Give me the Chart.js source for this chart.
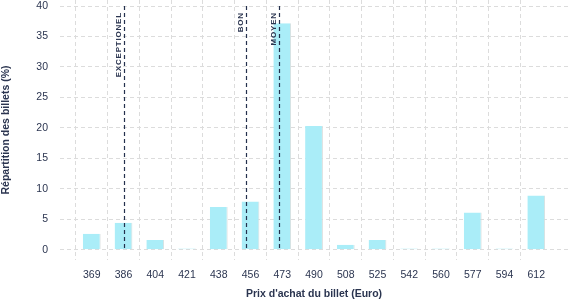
<!DOCTYPE html>
<html>
<head>
<meta charset="utf-8">
<script src="https://cdn.jsdelivr.net/npm/chart.js@4/dist/chart.umd.min.js"></script>
<style>
  html, body { margin: 0; padding: 0; background: #fff; }
  #wrap { width: 577px; height: 300px; }
</style>
</head>
<body>
<div id="wrap"><canvas id="chart" width="577" height="300"></canvas></div>
<script>
// Prix (Euro) des classes de billets
const prix = ['369', '386', '404', '421', '438', '456', '473', '490', '508', '525', '542', '560', '577', '594', '612'];
// Répartition des billets (%)
const repartition = [2.6, 4.4, 1.6, 0.2, 7.0, 7.9, 37.2, 20.3, 0.8, 1.6, 0.2, 0.2, 6.1, 0.2, 8.9];
// Seuils (position exprimée en rang de classe)
const seuilNoms = ['EXCEPTIONEL', 'BON', 'MOYEN'];
const seuilPos = [1.0, 4.86, 5.9];
const yTicks = [0, 5, 10, 15, 20, 25, 30, 35, 40];

// une case vide de chaque côté, comme sur l'original
const labels = [''].concat(prix, ['']);
const values = [null].concat(repartition, [null]);

const textColor = '#2b3550';
const gridColor = '#dcdcdc';
const police = '"Liberation Sans", Arial, sans-serif';

const seuilPlugin = {
  id: 'seuils',
  afterDatasetsDraw(chart) {
    const { ctx, scales } = chart;
    const x = scales.x, y = scales.y;
    ctx.save();
    seuilPos.forEach((pos, i) => {
      const px = Math.round(x.getPixelForValue(pos + 1)) + 0.5;
      ctx.strokeStyle = '#24304d';
      ctx.lineWidth = 1.2;
      ctx.setLineDash([4, 3]);
      ctx.beginPath();
      ctx.moveTo(px, y.getPixelForValue(40));
      ctx.lineTo(px, y.getPixelForValue(0));
      ctx.stroke();

      ctx.setLineDash([]);
      ctx.translate(px - 6, y.getPixelForValue(40) + 6);
      ctx.rotate(-Math.PI / 2);
      ctx.fillStyle = textColor;
      ctx.font = 'bold 8px ' + police;
      ctx.textAlign = 'right';
      ctx.textBaseline = 'middle';
      ctx.letterSpacing = '0.8px';
      ctx.fillText(seuilNoms[i], 0, 0);
      ctx.setTransform(1, 0, 0, 1, 0, 0);
    });
    ctx.restore();
  }
};

new Chart(document.getElementById('chart'), {
  type: 'bar',
  data: {
    labels: labels,
    datasets: [{
      data: values,
      backgroundColor: '#aaedf8',
      borderColor: '#d8dcdc',
      borderWidth: { top: 0, right: 1, bottom: 0, left: 0 },
      borderSkipped: false,
      categoryPercentage: 1,
      barPercentage: 0.56
    }]
  },
  options: {
    responsive: false,
    animation: false,
    layout: { padding: { top: 0, right: 9, bottom: 0, left: 0 } },
    plugins: {
      legend: { display: false },
      tooltip: { enabled: false }
    },
    scales: {
      x: {
        offset: false,
        grid: {
          color: c => (c.index === 0 || c.index === labels.length - 1) ? 'rgba(0,0,0,0)' : gridColor,
          lineWidth: 1,
          drawTicks: false
        },
        border: { display: false, dash: [4, 3] },
        ticks: {
          color: textColor,
          font: { family: police, size: 10.5 },
          padding: 9,
          maxRotation: 0,
          autoSkip: false
        },
        title: {
          display: true,
          text: "Prix d'achat du billet (Euro)",
          color: textColor,
          font: { family: police, size: 10.5, weight: 'bold' },
          padding: { top: 4, bottom: 0 }
        },
        afterFit: s => { s.height = 40; s.paddingLeft = 0; s.paddingRight = 0; }
      },
      y: {
        min: -1.7,
        max: 41,
        afterBuildTicks: s => { s.ticks = yTicks.map(v => ({ value: v })); },
        border: { display: false, dash: [4, 3] },
        grid: { color: gridColor, lineWidth: 1, drawTicks: false },
        ticks: {
          color: textColor,
          font: { family: police, size: 10.5 },
          padding: 12
        },
        title: {
          display: true,
          text: 'Répartition des billets (%)',
          color: textColor,
          font: { family: police, size: 10.5, weight: 'bold' },
          padding: { top: 0, bottom: 6 }
        },
        afterFit: s => { s.width = 60; s.paddingTop = 0; s.paddingBottom = 0; }
      }
    }
  },
  plugins: [seuilPlugin]
});
</script>
</body>
</html>
